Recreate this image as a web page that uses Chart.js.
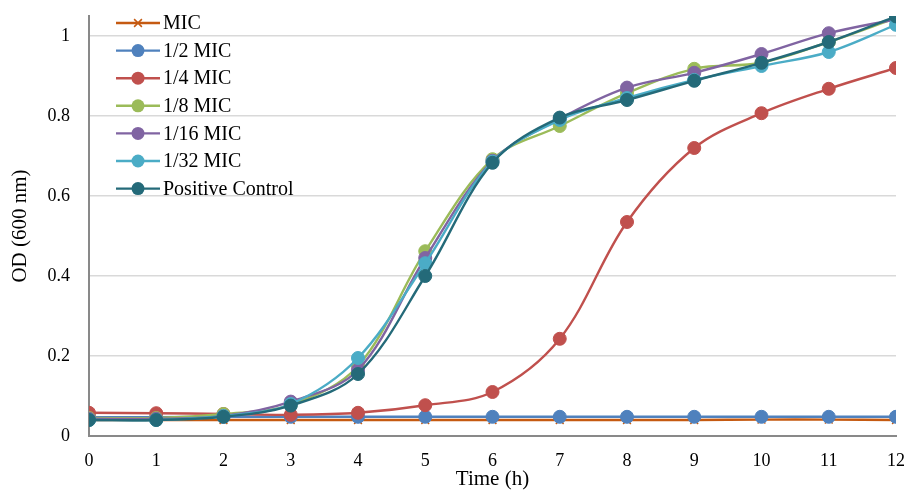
<!DOCTYPE html>
<html>
<head>
<meta charset="utf-8">
<script src="https://cdn.jsdelivr.net/npm/chart.js@4/dist/chart.umd.min.js"></script>
<style>
html,body{margin:0;padding:0;background:#fff;}
#wrap{width:906px;height:492px;}
</style>
</head>
<body>
<div id="wrap"><canvas id="c" width="906" height="492"></canvas></div>
<script>
const timeHours = [0,1,2,3,4,5,6,7,8,9,10,11,12];
const seriesLabels = ['MIC','1/2 MIC','1/4 MIC','1/8 MIC','1/16 MIC','1/32 MIC','Positive Control'];
const micValues = [0.040,0.040,0.040,0.040,0.040,0.040,0.040,0.040,0.040,0.040,0.041,0.041,0.040];
const halfMicValues = [0.047,0.047,0.048,0.048,0.048,0.048,0.048,0.048,0.048,0.048,0.048,0.048,0.048];
const quarterMicValues = [0.058,0.057,0.055,0.053,0.058,0.077,0.110,0.243,0.535,0.720,0.807,0.868,0.920];
const eighthMicValues = [0.045,0.045,0.055,0.078,0.175,0.462,0.692,0.775,0.857,0.918,0.933,0.985,1.045];
const sixteenthMicValues = [0.043,0.043,0.050,0.086,0.165,0.445,0.688,0.793,0.871,0.908,0.955,1.007,1.042];
const thirtySecondMicValues = [0.040,0.040,0.050,0.080,0.195,0.432,0.686,0.790,0.845,0.890,0.925,0.960,1.028];
const controlValues = [0.040,0.040,0.048,0.076,0.155,0.400,0.683,0.796,0.840,0.888,0.933,0.985,1.049];
const yTickValues = [0,0.2,0.4,0.6,0.8,1];

const allValues = [micValues,halfMicValues,quarterMicValues,eighthMicValues,sixteenthMicValues,thirtySecondMicValues,controlValues];
const colors = ['#C55A11','#4F81BD','#C0504D','#9BBB59','#8064A2','#4BACC6','#246A79'];
const FONT = "'Liberation Serif','Times New Roman',serif";

const datasets = allValues.map((vals,i)=>({
  label: seriesLabels[i],
  data: vals.map((v,j)=>({x: timeHours[j], y: v})),
  borderColor: colors[i],
  backgroundColor: colors[i],
  pointBackgroundColor: colors[i],
  pointBorderColor: colors[i],
  borderWidth: 2.4,
  pointStyle: i===0 ? 'crossRot' : 'circle',
  pointRadius: i===0 ? 5.5 : 6.5,
  pointBorderWidth: i===0 ? 1.5 : 1,
  tension: 0.35,
  order: allValues.length - 1 - i
}));

const legendPlugin = {
  id: 'insideLegend',
  afterDraw(chart){
    const ctx = chart.ctx;
    ctx.save();
    datasets.forEach((ds,i)=>{
      const y = 23 + i*27.6;
      ctx.strokeStyle = ds.borderColor;
      ctx.lineWidth = 2.4;
      ctx.beginPath(); ctx.moveTo(116,y); ctx.lineTo(160,y); ctx.stroke();
      ctx.fillStyle = ds.borderColor;
      if(ds.pointStyle==='crossRot'){
        ctx.lineWidth = 1.5;
        const r = 5.5*Math.SQRT1_2;
        ctx.beginPath();
        ctx.moveTo(138-r,y-r); ctx.lineTo(138+r,y+r);
        ctx.moveTo(138-r,y+r); ctx.lineTo(138+r,y-r);
        ctx.stroke();
      } else {
        ctx.beginPath(); ctx.arc(138,y,6.5,0,Math.PI*2); ctx.fill();
      }
      ctx.fillStyle = '#000';
      ctx.font = '20px ' + FONT;
      ctx.textBaseline = 'middle';
      ctx.textAlign = 'left';
      ctx.fillText(ds.label,163,y+1);
    });
    ctx.restore();
  }
};

new Chart(document.getElementById('c'),{
  type:'line',
  data:{datasets},
  plugins:[legendPlugin],
  options:{
    responsive:false,
    animation:false,
    layout:{padding:{left:0,right:10,top:16,bottom:0}},
    plugins:{legend:{display:false},tooltip:{enabled:false}},
    scales:{
      x:{
        type:'linear',
        min:0,max:12,
        afterFit(s){ s.height = 56; s.paddingLeft = 0; s.paddingRight = 0; },
        grid:{display:false,drawTicks:false},
        border:{display:true,color:'#898989',width:2},
        ticks:{stepSize:1,padding:14,color:'#000',font:{family:FONT,size:18},maxRotation:0},
        title:{display:true,text:'Time (h)',color:'#000',font:{family:FONT,size:21},padding:{top:0,bottom:0}}
      },
      y:{
        min:0,max:1.05,
        afterFit(s){ s.width = 89; s.paddingTop = 0; s.paddingBottom = 0; },
        afterBuildTicks(s){ s.ticks = yTickValues.map(v=>({value:v})); },
        grid:{drawTicks:false,color:(c)=> c.tick && c.tick.value===0 ? 'rgba(0,0,0,0)' : '#D9D9D9',lineWidth:1.5},
        border:{display:true,color:'#898989',width:2},
        ticks:{padding:19,color:'#000',font:{family:FONT,size:18},callback:(v)=> String(Math.round(v*10)/10)},
        title:{display:true,text:'OD (600 nm)',color:'#000',font:{family:FONT,size:21},padding:{top:8,bottom:0}}
      }
    }
  }
});
</script>
</body>
</html>
